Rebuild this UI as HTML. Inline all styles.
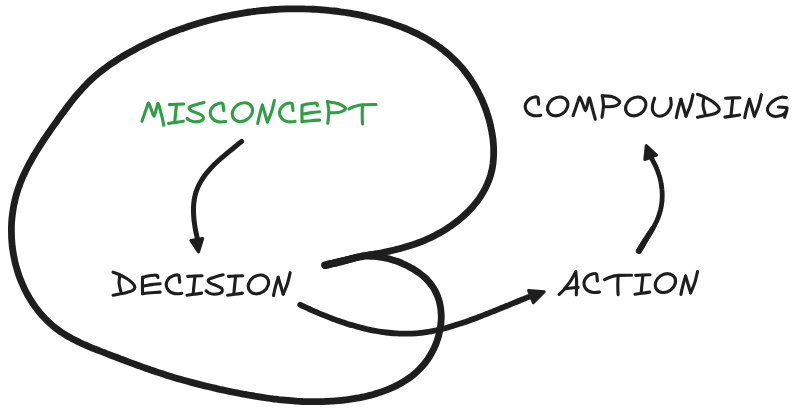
<!DOCTYPE html>
<html><head><meta charset="utf-8"><title>Misconcept loop</title>
<style>
html,body{margin:0;padding:0;background:#ffffff;}
body{width:800px;height:411px;overflow:hidden;font-family:"Liberation Sans",sans-serif;}
svg{display:block;}
</style></head>
<body>
<svg width="800" height="411" viewBox="0 0 800 411">
<path d="M325.1 265.4 C326.0 265.1 328.9 264.2 330.8 263.7 C332.8 263.1 334.7 262.6 336.6 262.1 C338.6 261.6 340.5 261.2 342.5 260.7 C344.4 260.2 346.4 259.8 348.3 259.4 C350.3 259.0 352.2 258.6 354.2 258.2 C356.2 257.8 358.1 257.4 360.1 257.0 C362.1 256.6 364.0 256.2 366.0 255.9 C368.0 255.5 369.9 255.1 371.9 254.7 C373.9 254.3 375.8 254.0 377.8 253.6 C379.8 253.2 381.7 252.8 383.7 252.4 C385.6 252.0 387.6 251.5 389.6 251.1 C391.5 250.7 393.5 250.2 395.4 249.7 C397.3 249.3 399.3 248.8 401.2 248.2 C403.2 247.7 405.1 247.2 407.0 246.6 C408.9 246.0 410.8 245.4 412.7 244.8 C414.6 244.2 416.5 243.5 418.4 242.8 C420.3 242.1 422.1 241.4 424.0 240.6 C425.8 239.8 427.7 239.0 429.5 238.2 C431.3 237.3 433.1 236.4 434.9 235.5 C436.6 234.6 438.4 233.6 440.1 232.7 C441.9 231.7 443.6 230.7 445.3 229.6 C447.0 228.5 448.7 227.4 450.3 226.3 C452.0 225.2 453.6 224.0 455.2 222.8 C456.8 221.6 458.4 220.4 459.9 219.1 C461.5 217.8 463.0 216.5 464.5 215.1 C465.9 213.8 467.4 212.4 468.8 211.0 C470.2 209.5 471.5 208.1 472.9 206.5 C474.2 205.0 475.4 203.5 476.7 201.9 C477.9 200.3 479.1 198.7 480.2 197.0 C481.3 195.4 482.3 193.7 483.3 191.9 C484.3 190.2 485.3 188.4 486.1 186.6 C487.0 184.8 487.8 183.0 488.5 181.1 C489.3 179.2 489.9 177.3 490.5 175.4 C491.0 173.5 491.5 171.6 492.0 169.6 C492.4 167.6 492.7 165.7 493.0 163.7 C493.2 161.7 493.4 159.7 493.5 157.7 C493.7 155.7 493.7 153.7 493.7 151.7 C493.7 149.7 493.6 147.7 493.5 145.7 C493.4 143.7 493.2 141.7 493.0 139.7 C492.8 137.7 492.5 135.7 492.1 133.8 C491.8 131.8 491.4 129.8 491.0 127.9 C490.6 125.9 490.2 124.0 489.7 122.0 C489.2 120.1 488.6 118.2 488.0 116.2 C487.4 114.3 486.8 112.4 486.2 110.5 C485.5 108.6 484.8 106.8 484.0 104.9 C483.3 103.1 482.5 101.2 481.7 99.4 C480.9 97.6 480.0 95.7 479.1 94.0 C478.2 92.2 477.3 90.4 476.3 88.7 C475.3 86.9 474.3 85.2 473.3 83.5 C472.2 81.8 471.1 80.1 470.0 78.4 C468.9 76.8 467.7 75.2 466.5 73.6 C465.3 72.0 464.0 70.4 462.8 68.8 C461.5 67.3 460.2 65.8 458.8 64.3 C457.4 62.8 456.1 61.4 454.6 60.0 C453.2 58.6 451.7 57.2 450.3 55.9 C448.8 54.6 447.2 53.2 445.7 52.0 C444.1 50.7 442.6 49.5 441.0 48.3 C439.4 47.1 437.7 45.9 436.1 44.8 C434.4 43.7 432.7 42.6 431.0 41.5 C429.3 40.5 427.6 39.4 425.9 38.4 C424.1 37.5 422.4 36.5 420.6 35.6 C418.8 34.6 417.0 33.7 415.2 32.9 C413.4 32.0 411.6 31.2 409.8 30.4 C407.9 29.6 406.1 28.8 404.2 28.0 C402.4 27.3 400.5 26.6 398.6 25.9 C396.8 25.2 394.9 24.5 393.0 23.9 C391.1 23.2 389.2 22.6 387.3 22.0 C385.4 21.4 383.4 20.8 381.5 20.3 C379.6 19.7 377.7 19.2 375.7 18.7 C373.8 18.2 371.8 17.7 369.9 17.3 C367.9 16.8 366.0 16.4 364.0 15.9 C362.1 15.5 360.1 15.1 358.1 14.7 C356.2 14.3 354.2 14.0 352.2 13.6 C350.3 13.3 348.3 12.9 346.3 12.6 C344.3 12.3 342.4 12.0 340.4 11.8 C338.4 11.5 336.4 11.2 334.4 11.0 C332.4 10.8 330.4 10.5 328.4 10.4 C326.4 10.2 324.5 10.0 322.5 9.8 C320.5 9.7 318.5 9.5 316.5 9.4 C314.5 9.3 312.5 9.2 310.5 9.1 C308.5 9.0 306.5 8.9 304.5 8.9 C302.5 8.8 300.5 8.8 298.5 8.8 C296.5 8.8 294.5 8.8 292.5 8.8 C290.4 8.8 288.4 8.9 286.4 8.9 C284.4 9.0 282.4 9.1 280.4 9.2 C278.4 9.3 276.4 9.4 274.4 9.5 C272.4 9.7 270.5 9.8 268.5 10.0 C266.5 10.1 264.5 10.3 262.5 10.5 C260.5 10.7 258.5 10.9 256.5 11.2 C254.5 11.4 252.5 11.7 250.5 12.0 C248.6 12.2 246.6 12.5 244.6 12.8 C242.6 13.1 240.7 13.5 238.7 13.8 C236.7 14.1 234.7 14.5 232.8 14.9 C230.8 15.3 228.8 15.6 226.9 16.1 C224.9 16.5 223.0 16.9 221.0 17.3 C219.1 17.8 217.1 18.2 215.2 18.7 C213.2 19.2 211.3 19.7 209.3 20.2 C207.4 20.7 205.5 21.3 203.6 21.8 C201.6 22.3 199.7 22.9 197.8 23.5 C195.9 24.1 194.0 24.7 192.1 25.3 C190.1 25.9 188.2 26.5 186.3 27.2 C184.5 27.8 182.6 28.5 180.7 29.1 C178.8 29.8 176.9 30.5 175.0 31.2 C173.2 31.9 171.3 32.7 169.4 33.4 C167.6 34.1 165.7 34.9 163.9 35.7 C162.0 36.4 160.2 37.2 158.4 38.0 C156.5 38.9 154.7 39.7 152.9 40.5 C151.1 41.4 149.3 42.2 147.5 43.1 C145.7 44.0 143.9 44.8 142.1 45.7 C140.3 46.6 138.5 47.6 136.7 48.5 C135.0 49.4 133.2 50.4 131.5 51.4 C129.7 52.3 128.0 53.3 126.2 54.3 C124.5 55.3 122.8 56.3 121.1 57.4 C119.4 58.4 117.7 59.5 116.0 60.6 C114.3 61.7 112.6 62.8 111.0 63.9 C109.3 65.0 107.7 66.2 106.1 67.4 C104.5 68.6 102.9 69.8 101.3 71.0 C99.7 72.3 98.2 73.5 96.6 74.8 C95.1 76.1 93.6 77.4 92.1 78.8 C90.7 80.1 89.2 81.5 87.8 82.9 C86.4 84.3 85.0 85.8 83.6 87.2 C82.2 88.7 80.9 90.2 79.6 91.7 C78.2 93.2 76.9 94.7 75.7 96.2 C74.4 97.8 73.1 99.3 71.9 100.9 C70.6 102.5 69.4 104.1 68.2 105.6 C67.0 107.2 65.8 108.8 64.6 110.5 C63.4 112.1 62.2 113.7 61.0 115.3 C59.9 116.9 58.7 118.5 57.5 120.2 C56.4 121.8 55.2 123.4 54.0 125.1 C52.9 126.7 51.7 128.3 50.6 130.0 C49.4 131.6 48.3 133.3 47.2 134.9 C46.0 136.6 44.9 138.2 43.8 139.9 C42.7 141.6 41.6 143.2 40.5 144.9 C39.4 146.6 38.3 148.3 37.3 150.0 C36.2 151.7 35.2 153.4 34.2 155.1 C33.1 156.8 32.1 158.6 31.2 160.3 C30.2 162.1 29.2 163.8 28.3 165.6 C27.4 167.4 26.5 169.2 25.6 171.0 C24.7 172.8 23.9 174.6 23.0 176.4 C22.2 178.2 21.5 180.1 20.7 181.9 C20.0 183.8 19.3 185.7 18.6 187.6 C18.0 189.5 17.3 191.4 16.8 193.3 C16.2 195.2 15.7 197.1 15.2 199.1 C14.7 201.0 14.3 203.0 13.9 204.9 C13.5 206.9 13.2 208.9 12.9 210.9 C12.6 212.8 12.3 214.8 12.1 216.8 C11.9 218.8 11.7 220.8 11.6 222.8 C11.5 224.8 11.4 226.8 11.4 228.8 C11.4 230.8 11.4 232.8 11.5 234.8 C11.5 236.8 11.6 238.8 11.8 240.8 C11.9 242.8 12.1 244.8 12.3 246.8 C12.6 248.8 12.9 250.8 13.2 252.7 C13.5 254.7 13.9 256.7 14.3 258.6 C14.7 260.6 15.1 262.6 15.6 264.5 C16.1 266.4 16.7 268.4 17.3 270.3 C17.8 272.2 18.5 274.1 19.1 276.0 C19.8 277.9 20.5 279.7 21.3 281.6 C22.0 283.4 22.8 285.3 23.7 287.1 C24.5 288.9 25.4 290.7 26.3 292.5 C27.3 294.3 28.3 296.0 29.3 297.7 C30.3 299.4 31.4 301.1 32.5 302.8 C33.6 304.5 34.7 306.1 35.9 307.7 C37.1 309.3 38.3 310.9 39.6 312.5 C40.9 314.0 42.2 315.5 43.6 317.0 C44.9 318.4 46.4 319.9 47.8 321.3 C49.2 322.6 50.7 324.0 52.2 325.3 C53.8 326.6 55.3 327.8 56.9 329.0 C58.5 330.3 60.2 331.4 61.8 332.5 C63.5 333.6 65.2 334.7 66.9 335.7 C68.6 336.8 70.4 337.7 72.1 338.7 C73.9 339.6 75.7 340.5 77.5 341.4 C79.3 342.3 81.1 343.1 82.9 344.0 C84.7 344.8 86.6 345.6 88.4 346.4 C90.3 347.2 92.1 347.9 94.0 348.7 C95.8 349.4 97.7 350.2 99.6 350.9 C101.4 351.6 103.3 352.3 105.2 353.0 C107.0 353.8 108.9 354.5 110.8 355.2 C112.6 355.9 114.5 356.6 116.4 357.3 C118.3 358.0 120.1 358.8 122.0 359.5 C123.9 360.2 125.7 360.9 127.6 361.6 C129.5 362.3 131.4 363.0 133.2 363.7 C135.1 364.4 137.0 365.1 138.9 365.8 C140.8 366.4 142.6 367.1 144.5 367.8 C146.4 368.5 148.3 369.1 150.2 369.8 C152.1 370.4 154.0 371.1 155.9 371.7 C157.8 372.3 159.7 373.0 161.6 373.6 C163.5 374.2 165.4 374.8 167.3 375.4 C169.2 376.0 171.2 376.6 173.1 377.2 C175.0 377.7 176.9 378.3 178.8 378.9 C180.8 379.4 182.7 380.0 184.6 380.5 C186.5 381.0 188.5 381.6 190.4 382.1 C192.3 382.6 194.3 383.1 196.2 383.6 C198.1 384.1 200.1 384.6 202.0 385.1 C204.0 385.6 205.9 386.1 207.9 386.5 C209.8 387.0 211.8 387.5 213.7 387.9 C215.7 388.4 217.6 388.8 219.6 389.3 C221.5 389.7 223.5 390.1 225.4 390.5 C227.4 391.0 229.4 391.4 231.3 391.8 C233.3 392.2 235.2 392.6 237.2 392.9 C239.2 393.3 241.1 393.7 243.1 394.1 C245.1 394.4 247.0 394.8 249.0 395.2 C251.0 395.5 253.0 395.8 254.9 396.2 C256.9 396.5 258.9 396.8 260.9 397.1 C262.8 397.4 264.8 397.7 266.8 398.0 C268.8 398.3 270.8 398.6 272.8 398.8 C274.7 399.1 276.7 399.3 278.7 399.6 C280.7 399.8 282.7 400.0 284.7 400.2 C286.7 400.4 288.7 400.6 290.7 400.7 C292.7 400.9 294.7 401.0 296.7 401.2 C298.7 401.3 300.7 401.4 302.7 401.5 C304.7 401.5 306.7 401.6 308.7 401.7 C310.7 401.7 312.7 401.7 314.7 401.7 C316.7 401.7 318.7 401.7 320.7 401.6 C322.7 401.6 324.7 401.5 326.7 401.4 C328.7 401.4 330.7 401.2 332.7 401.1 C334.7 401.0 336.7 400.8 338.7 400.6 C340.7 400.4 342.6 400.2 344.6 400.0 C346.6 399.7 348.6 399.5 350.6 399.2 C352.6 398.9 354.5 398.6 356.5 398.2 C358.5 397.9 360.5 397.5 362.4 397.1 C364.4 396.7 366.3 396.2 368.3 395.7 C370.2 395.3 372.2 394.7 374.1 394.2 C376.0 393.6 377.9 393.1 379.8 392.4 C381.7 391.8 383.6 391.1 385.5 390.4 C387.3 389.7 389.2 388.9 391.0 388.1 C392.9 387.3 394.7 386.5 396.5 385.6 C398.3 384.7 400.0 383.7 401.8 382.7 C403.5 381.7 405.2 380.7 406.9 379.6 C408.5 378.4 410.2 377.3 411.7 376.1 C413.3 374.8 414.9 373.5 416.3 372.2 C417.8 370.9 419.3 369.5 420.6 368.0 C422.0 366.6 423.3 365.1 424.6 363.5 C425.9 361.9 427.0 360.3 428.2 358.7 C429.3 357.0 430.3 355.3 431.3 353.5 C432.3 351.8 433.2 350.0 434.1 348.2 C434.9 346.4 435.7 344.5 436.4 342.7 C437.1 340.8 437.7 338.9 438.3 337.0 C438.8 335.0 439.3 333.1 439.7 331.1 C440.1 329.2 440.5 327.2 440.7 325.2 C441.0 323.2 441.1 321.2 441.2 319.2 C441.3 317.2 441.3 315.2 441.1 313.2 C441.0 311.2 440.8 309.2 440.5 307.3 C440.2 305.3 439.8 303.3 439.3 301.4 C438.8 299.5 438.1 297.5 437.4 295.7 C436.7 293.8 435.8 292.0 434.8 290.3 C433.9 288.5 432.8 286.8 431.6 285.2 C430.4 283.6 429.1 282.0 427.8 280.6 C426.4 279.1 425.0 277.7 423.5 276.4 C422.0 275.1 420.4 273.8 418.8 272.6 C417.2 271.5 415.5 270.4 413.8 269.3 C412.1 268.3 410.3 267.3 408.6 266.4 C406.8 265.4 405.0 264.6 403.1 263.8 C401.3 263.0 399.4 262.2 397.6 261.5 C395.7 260.9 393.8 260.2 391.9 259.7 C389.9 259.1 388.0 258.6 386.0 258.2 C384.1 257.7 382.1 257.4 380.1 257.1 C378.2 256.8 376.2 256.5 374.2 256.4 C372.2 256.3 369.2 256.3 368.2 256.2" fill="none" stroke="#1e1e1e" stroke-width="6.8" stroke-linecap="round" stroke-linejoin="round"/>
<path d="M325.00 265.20 L329.66 264.18" stroke="#1e1e1e" stroke-width="7.60" stroke-linecap="round"/>
<path d="M328.69 264.39 L335.74 262.83" stroke="#1e1e1e" stroke-width="7.49" stroke-linecap="round"/>
<path d="M334.58 263.09 L341.86 261.39" stroke="#1e1e1e" stroke-width="7.38" stroke-linecap="round"/>
<path d="M340.86 261.63 L347.13 259.97" stroke="#1e1e1e" stroke-width="7.27" stroke-linecap="round"/>
<path d="M346.15 260.24 L352.60 258.44" stroke="#1e1e1e" stroke-width="7.16" stroke-linecap="round"/>
<path d="M351.60 258.72 L357.57 257.15" stroke="#1e1e1e" stroke-width="7.04" stroke-linecap="round"/>
<path d="M356.58 257.39 L363.24 255.98" stroke="#1e1e1e" stroke-width="6.93" stroke-linecap="round"/>
<path d="M362.13 256.18 L369.60 254.97" stroke="#1e1e1e" stroke-width="6.82" stroke-linecap="round"/>
<path d="M368.45 255.14 L375.22 254.19" stroke="#1e1e1e" stroke-width="6.71" stroke-linecap="round"/>
<path d="M374.32 254.32 L378.00 253.80" stroke="#1e1e1e" stroke-width="6.60" stroke-linecap="round"/>
<path d="M241.6 141.5 C240.9 142.0 238.9 143.6 237.6 144.7 C236.3 145.8 234.9 146.8 233.6 147.9 C232.3 148.9 230.9 150.0 229.6 151.1 C228.3 152.2 227.0 153.2 225.7 154.3 C224.4 155.4 223.1 156.5 221.8 157.7 C220.5 158.8 219.2 159.9 218.0 161.1 C216.7 162.2 215.5 163.4 214.3 164.6 C213.1 165.8 211.9 167.1 210.7 168.3 C209.6 169.6 208.5 170.9 207.4 172.2 C206.3 173.5 205.2 174.8 204.2 176.2 C203.2 177.6 202.3 179.0 201.4 180.5 C200.5 181.9 199.7 183.4 198.9 185.0 C198.2 186.5 197.5 188.1 196.9 189.6 C196.3 191.2 195.8 192.9 195.3 194.5 C194.9 196.2 194.5 197.8 194.3 199.5 C194.0 201.2 193.8 202.9 193.7 204.6 C193.5 206.3 193.5 208.0 193.5 209.7 C193.5 211.4 193.5 213.1 193.6 214.8 C193.7 216.5 193.8 218.2 194.0 219.9 C194.2 221.6 194.4 223.3 194.7 225.0 C194.9 226.7 195.2 228.4 195.5 230.1 C195.8 231.7 196.2 233.4 196.6 235.1 C196.9 236.7 197.6 239.2 197.8 240.0" fill="none" stroke="#1e1e1e" stroke-width="5.0" stroke-linecap="round" stroke-linejoin="round"/>
<path d="M190.8 240.5 L202.7 238.6 L198.5 252.0 Z" fill="#1e1e1e" stroke="#1e1e1e" stroke-width="3" stroke-linejoin="round"/>
<path d="M300.2 304.7 C300.9 305.1 303.2 306.2 304.7 306.9 C306.3 307.6 307.8 308.3 309.3 309.0 C310.8 309.7 312.4 310.4 313.9 311.1 C315.5 311.7 317.0 312.4 318.5 313.1 C320.1 313.7 321.6 314.4 323.2 315.0 C324.8 315.6 326.3 316.3 327.9 316.9 C329.4 317.5 331.0 318.1 332.6 318.7 C334.2 319.3 335.7 319.9 337.3 320.4 C338.9 321.0 340.5 321.5 342.1 322.1 C343.7 322.6 345.3 323.1 346.9 323.7 C348.5 324.2 350.1 324.7 351.7 325.1 C353.3 325.6 354.9 326.1 356.5 326.5 C358.2 327.0 359.8 327.4 361.4 327.8 C363.0 328.2 364.7 328.6 366.3 329.0 C367.9 329.4 369.6 329.7 371.2 330.1 C372.9 330.4 374.5 330.7 376.2 331.0 C377.8 331.3 379.5 331.6 381.2 331.8 C382.8 332.1 384.5 332.3 386.2 332.5 C387.8 332.7 389.5 332.9 391.2 333.0 C392.8 333.2 394.5 333.3 396.2 333.4 C397.9 333.5 399.5 333.6 401.2 333.6 C402.9 333.7 404.6 333.7 406.3 333.7 C407.9 333.7 409.6 333.7 411.3 333.6 C413.0 333.5 414.7 333.4 416.3 333.3 C418.0 333.2 419.7 333.0 421.4 332.8 C423.0 332.6 424.7 332.4 426.4 332.2 C428.0 331.9 429.7 331.6 431.3 331.3 C433.0 331.0 434.6 330.7 436.3 330.3 C437.9 330.0 439.6 329.6 441.2 329.2 C442.8 328.8 444.4 328.4 446.1 328.0 C447.7 327.5 449.3 327.1 450.9 326.6 C452.5 326.1 454.1 325.6 455.7 325.1 C457.3 324.6 458.9 324.1 460.5 323.6 C462.1 323.1 463.7 322.5 465.3 322.0 C466.9 321.4 468.5 320.8 470.1 320.3 C471.6 319.7 473.2 319.1 474.8 318.5 C476.4 317.9 477.9 317.4 479.5 316.8 C481.1 316.2 482.6 315.5 484.2 314.9 C485.8 314.3 487.3 313.7 488.9 313.1 C490.5 312.5 492.0 311.8 493.6 311.2 C495.1 310.6 496.7 310.0 498.3 309.3 C499.8 308.7 501.4 308.1 502.9 307.4 C504.5 306.8 506.0 306.2 507.6 305.5 C509.1 304.9 510.7 304.2 512.3 303.6 C513.8 303.0 515.4 302.3 516.9 301.7 C518.5 301.1 520.0 300.4 521.6 299.8 C523.2 299.2 524.7 298.6 526.3 297.9 C527.8 297.3 530.2 296.4 531.0 296.1" fill="none" stroke="#1e1e1e" stroke-width="5.8" stroke-linecap="round" stroke-linejoin="round"/>
<path d="M528.6 290.4 L544.2 291.8 L533.3 302.6 Z" fill="#1e1e1e" stroke="#1e1e1e" stroke-width="3" stroke-linejoin="round"/>
<path d="M638.6 250.6 C639.1 249.9 640.6 247.7 641.6 246.3 C642.5 244.9 643.5 243.5 644.5 242.1 C645.5 240.6 646.4 239.2 647.4 237.7 C648.3 236.3 649.2 234.8 650.1 233.4 C651.0 231.9 651.9 230.4 652.7 228.9 C653.6 227.4 654.4 225.8 655.1 224.3 C655.9 222.7 656.6 221.2 657.3 219.6 C658.0 218.0 658.6 216.4 659.1 214.7 C659.7 213.1 660.1 211.4 660.6 209.7 C661.0 208.1 661.3 206.4 661.6 204.7 C661.8 203.0 662.0 201.2 662.1 199.5 C662.2 197.8 662.3 196.1 662.2 194.3 C662.2 192.6 662.1 190.9 661.9 189.2 C661.8 187.4 661.5 185.7 661.2 184.0 C661.0 182.3 660.6 180.6 660.2 179.0 C659.7 177.3 659.3 175.6 658.7 174.0 C658.2 172.3 657.6 170.7 656.9 169.1 C656.3 167.5 655.6 165.9 654.8 164.4 C654.0 162.8 653.2 161.3 652.4 159.8 C651.5 158.3 650.1 156.1 649.6 155.4" fill="none" stroke="#1e1e1e" stroke-width="4.8" stroke-linecap="round" stroke-linejoin="round"/>
<path d="M646.3 145.5 L644.8 159.5 L656.5 155.0 Z" fill="#1e1e1e" stroke="#1e1e1e" stroke-width="3" stroke-linejoin="round"/>
<path d="M639.0 250.8 L642.2 245.5" stroke="#1e1e1e" stroke-width="6.2" stroke-linecap="round"/>
<path d="M642.2 245.5 L645.4 240.0" stroke="#1e1e1e" stroke-width="5.8" stroke-linecap="round"/>
<path d="M645.4 240.0 L649.0 234.2" stroke="#1e1e1e" stroke-width="5.4" stroke-linecap="round"/>
<path d="M649.0 234.2 L652.3 228.7" stroke="#1e1e1e" stroke-width="5.0" stroke-linecap="round"/>
<g fill="none" stroke="#2f9e44" stroke-width="3.1" stroke-linecap="round" stroke-linejoin="round"><path d="M141.9 121.3 C142.3 120.1 143.6 116.4 144.4 114.2 C145.2 112.0 145.9 109.9 146.6 108.0 C147.3 106.1 147.7 102.8 148.5 103.0 C149.3 103.2 150.4 107.3 151.3 109.5 C152.2 111.7 153.2 116.2 154.0 116.2 C154.8 116.2 155.5 111.6 156.2 109.5 C156.9 107.4 157.5 103.1 158.2 103.4 C158.9 103.7 159.9 109.0 160.6 111.5 C161.3 114.0 161.9 116.2 162.4 118.5 C162.9 120.8 163.5 124.1 163.7 125.2"/><path d="M169.3 104.6 C170.5 104.5 174.0 104.3 176.4 104.2 C178.8 104.1 182.4 104.0 183.6 104.0"/><path d="M176.5 104.6 C176.3 106.0 175.9 110.3 175.6 113.2 C175.3 116.1 174.9 120.3 174.8 121.7"/><path d="M168.6 123.4 C169.8 123.2 173.1 122.8 175.6 122.4 C178.1 122.1 182.0 121.5 183.3 121.3"/><path d="M204.1 102.4 C202.9 102.7 199.0 103.7 196.8 104.4 C194.6 105.1 192.1 105.7 190.8 106.4 C189.5 107.1 189.0 107.7 189.2 108.5 C189.4 109.3 190.4 110.3 191.9 111.1 C193.4 111.9 196.2 112.6 198.0 113.4 C199.8 114.2 201.7 115.1 202.6 116.0 C203.5 116.9 203.6 117.9 203.3 118.7 C203.0 119.5 202.1 120.5 200.7 121.0 C199.2 121.5 196.4 121.9 194.6 121.8 C192.8 121.7 191.1 121.0 189.8 120.4 C188.6 119.8 187.6 118.7 187.1 118.4"/><path d="M223.7 110.5 C223.6 109.9 223.5 107.9 223.3 106.7 C223.1 105.5 223.4 104.0 222.6 103.5 C221.8 103.0 220.0 103.0 218.6 103.4 C217.2 103.8 215.2 104.6 213.9 105.7 C212.6 106.8 211.4 108.3 210.8 109.8 C210.2 111.3 210.1 113.0 210.4 114.5 C210.7 116.0 211.5 117.5 212.5 118.6 C213.5 119.7 215.1 120.6 216.6 121.2 C218.1 121.8 219.8 122.0 221.3 122.0 C222.8 122.0 225.1 121.6 225.8 121.5"/><ellipse cx="242.40" cy="112.20" rx="10.8" ry="8.7" transform="rotate(-35 242.40 112.20)"/><path d="M257.7 123.5 C258.0 122.0 258.9 117.6 259.7 114.6 C260.5 111.5 261.9 106.8 262.4 105.2"/><path d="M262.4 105.2 C262.8 106.7 264.2 111.1 265.0 113.9 C265.8 116.7 267.0 120.7 267.4 122.0"/><path d="M267.4 122.0 C267.8 121.0 269.2 117.9 270.0 115.9 C270.8 113.9 271.4 112.5 272.1 109.9 C272.8 107.4 274.0 102.1 274.4 100.6"/><path d="M293.0 110.4 C292.9 109.8 292.8 107.8 292.6 106.6 C292.4 105.4 292.7 104.0 291.9 103.4 C291.1 102.9 289.3 102.9 287.9 103.3 C286.4 103.7 284.5 104.5 283.2 105.6 C281.9 106.7 280.7 108.2 280.1 109.7 C279.5 111.2 279.4 112.9 279.7 114.4 C280.0 115.9 280.8 117.4 281.8 118.5 C282.8 119.6 284.4 120.5 285.9 121.1 C287.4 121.7 289.1 121.9 290.6 121.9 C292.1 122.0 294.4 121.5 295.1 121.4"/><path d="M302.2 105.3 C302.1 106.6 301.9 110.2 301.9 113.0 C301.9 115.8 302.1 120.3 302.1 121.8"/><path d="M302.2 105.3 C303.1 105.1 305.6 104.3 307.5 104.0 C309.4 103.7 312.1 103.3 313.7 103.2 C315.3 103.1 316.3 103.2 316.9 103.6 C317.5 104.0 317.3 105.3 317.4 105.6"/><path d="M303.7 113.9 C305.0 113.7 308.9 113.0 311.5 112.6 C314.1 112.2 318.2 111.8 319.6 111.7"/><path d="M302.1 121.6 C303.5 121.5 307.6 121.0 310.5 120.8 C313.4 120.5 318.1 120.2 319.6 120.1"/><path d="M327.5 101.6 C327.7 103.3 328.8 108.0 328.8 111.6 C328.9 115.2 328.0 121.3 327.8 123.3"/><path d="M327.5 101.6 C329.2 101.9 334.8 102.6 337.6 103.4 C340.4 104.2 342.9 105.7 344.2 106.7 C345.5 107.7 345.6 108.5 345.2 109.3 C344.8 110.1 343.2 111.0 341.5 111.6 C339.8 112.2 337.2 112.5 335.2 112.7 C333.2 112.9 330.4 112.7 329.4 112.7"/><path d="M349.0 109.0 C349.9 108.6 352.1 107.2 354.4 106.5 C356.6 105.8 358.9 105.0 362.5 104.7 C366.1 104.4 373.8 104.5 376.0 104.5"/><path d="M362.5 105.3 C362.4 106.8 362.2 111.2 362.2 114.3 C362.2 117.4 362.4 122.4 362.5 124.0"/></g>
<g fill="none" stroke="#1e1e1e" stroke-width="3.1" stroke-linecap="round" stroke-linejoin="round"><path d="M538.7 104.3 C538.6 103.7 538.5 101.7 538.3 100.5 C538.1 99.3 538.4 97.8 537.6 97.3 C536.8 96.8 535.1 96.8 533.6 97.2 C532.1 97.6 530.2 98.4 528.9 99.5 C527.6 100.6 526.4 102.1 525.8 103.6 C525.2 105.1 525.1 106.8 525.4 108.3 C525.7 109.8 526.5 111.3 527.5 112.4 C528.5 113.5 530.1 114.4 531.6 115.0 C533.1 115.6 534.8 115.8 536.3 115.8 C537.8 115.8 540.0 115.4 540.8 115.3"/><ellipse cx="557.70" cy="106.40" rx="10.8" ry="8.7" transform="rotate(-35 557.70 106.40)"/><path d="M573.1 115.7 C573.5 114.4 575.0 110.2 575.8 107.9 C576.6 105.6 577.1 103.8 577.8 102.0 C578.4 100.2 578.9 96.8 579.7 97.0 C580.5 97.2 581.6 101.2 582.6 103.5 C583.6 105.8 584.7 110.5 585.5 110.6 C586.3 110.7 586.9 106.1 587.5 104.0 C588.1 101.9 588.7 97.5 589.4 97.8 C590.1 98.1 590.9 103.0 591.6 105.6 C592.3 108.2 593.1 111.1 593.7 113.4 C594.3 115.7 595.0 118.2 595.3 119.2"/><path d="M602.3 95.8 C602.5 97.4 603.5 102.0 603.5 105.6 C603.5 109.2 602.2 115.3 602.0 117.3"/><path d="M602.3 95.8 C603.8 95.9 608.9 95.9 611.6 96.6 C614.3 97.3 617.0 98.9 618.3 100.0 C619.6 101.1 619.8 102.3 619.4 103.2 C619.0 104.1 617.8 105.0 616.2 105.6 C614.6 106.2 612.1 106.5 610.0 106.7 C607.9 106.9 604.8 106.7 603.8 106.7"/><ellipse cx="635.70" cy="106.40" rx="10.8" ry="8.7" transform="rotate(-35 635.70 106.40)"/><path d="M654.6 98.2 C654.3 99.2 653.1 102.4 652.7 104.4 C652.4 106.4 652.1 108.5 652.5 110.2 C652.9 111.9 654.1 113.6 655.3 114.6 C656.5 115.6 658.1 116.2 659.7 116.2 C661.3 116.2 663.2 115.8 664.8 114.8 C666.4 113.8 668.1 111.9 669.2 110.2 C670.3 108.5 671.0 106.4 671.2 104.4 C671.4 102.4 670.7 99.2 670.6 98.2"/><path d="M676.3 117.6 C676.6 116.1 677.5 111.8 678.3 108.7 C679.1 105.7 680.5 100.9 681.0 99.3"/><path d="M681.0 99.3 C681.4 100.8 682.8 105.2 683.6 108.0 C684.4 110.8 685.6 114.8 686.0 116.1"/><path d="M686.0 116.1 C686.4 115.1 687.8 112.0 688.6 110.0 C689.4 108.0 690.0 106.5 690.7 104.0 C691.4 101.5 692.6 96.2 693.0 94.7"/><path d="M703.7 98.6 C703.6 99.8 702.9 103.5 703.1 106.0 C703.3 108.5 704.7 112.2 705.0 113.4"/><path d="M697.5 94.3 C698.5 94.7 701.4 95.5 703.7 96.6 C706.0 97.7 709.2 99.4 711.5 100.9 C713.8 102.4 716.0 104.2 717.3 105.6 C718.6 107.0 719.4 108.3 719.3 109.5 C719.2 110.7 718.2 111.8 716.9 112.6 C715.6 113.4 713.7 113.9 711.5 114.5 C709.3 115.1 706.0 115.6 703.7 116.1 C701.4 116.6 698.5 117.1 697.5 117.3"/><path d="M725.6 98.3 C726.8 98.2 730.3 98.0 732.7 97.9 C735.1 97.8 738.7 97.7 739.9 97.7"/><path d="M732.8 98.3 C732.6 99.7 732.2 104.1 731.9 106.9 C731.6 109.8 731.2 114.0 731.1 115.4"/><path d="M724.9 117.1 C726.1 116.9 729.4 116.4 731.9 116.1 C734.4 115.8 738.3 115.2 739.6 115.0"/><path d="M744.7 117.6 C745.0 116.1 745.9 111.8 746.7 108.7 C747.5 105.7 749.0 100.9 749.4 99.3"/><path d="M749.4 99.3 C749.8 100.8 751.2 105.2 752.0 108.0 C752.8 110.8 754.0 114.8 754.4 116.1"/><path d="M754.4 116.1 C754.8 115.1 756.2 112.0 757.0 110.0 C757.8 108.0 758.4 106.5 759.1 104.0 C759.8 101.5 761.0 96.2 761.4 94.7"/><path d="M786.3 97.6 C785.5 97.5 783.3 97.0 781.7 97.2 C780.1 97.4 778.4 97.9 776.6 98.9 C774.8 99.9 772.3 101.5 770.8 103.0 C769.3 104.5 768.0 106.4 767.6 108.1 C767.2 109.8 767.7 111.9 768.6 113.2 C769.5 114.5 771.3 115.6 773.0 116.1 C774.7 116.6 777.0 116.5 778.8 116.1 C780.6 115.7 782.6 114.8 783.9 113.9 C785.2 113.0 786.1 111.3 786.6 110.8"/><path d="M778.4 107.0 C779.1 107.0 781.1 107.1 782.5 107.2 C783.9 107.3 786.1 107.6 786.8 107.7"/><path d="M787.0 108.2 C786.8 108.9 786.4 111.0 786.0 112.5 C785.6 114.0 784.8 116.4 784.6 117.2"/><path d="M119.7 276.1 C119.6 277.3 118.9 280.9 119.1 283.5 C119.3 286.1 120.6 290.2 120.9 291.5"/><path d="M113.1 272.2 C114.1 272.6 117.0 273.4 119.3 274.5 C121.6 275.6 124.8 277.3 127.1 278.8 C129.4 280.3 131.6 282.1 132.9 283.5 C134.2 284.9 135.0 286.2 134.9 287.4 C134.8 288.6 133.8 289.7 132.5 290.5 C131.2 291.3 129.3 291.8 127.1 292.4 C124.9 293.0 121.6 293.5 119.3 294.0 C117.0 294.5 114.1 295.0 113.1 295.2"/><path d="M142.7 277.3 C142.6 278.6 142.4 282.2 142.4 285.0 C142.4 287.8 142.6 292.3 142.6 293.8"/><path d="M142.7 277.3 C143.6 277.1 146.1 276.4 148.0 276.0 C149.9 275.6 152.6 275.3 154.2 275.2 C155.8 275.1 156.8 275.2 157.4 275.6 C158.0 276.0 157.8 277.3 157.9 277.6"/><path d="M144.2 285.9 C145.5 285.7 149.3 285.0 152.0 284.6 C154.7 284.2 158.8 283.9 160.1 283.7"/><path d="M142.6 293.6 C144.0 293.5 148.1 293.1 151.0 292.8 C153.9 292.6 158.6 292.2 160.1 292.1"/><path d="M179.7 282.3 C179.6 281.7 179.5 279.7 179.3 278.5 C179.1 277.3 179.4 275.9 178.6 275.3 C177.8 274.8 176.0 274.8 174.6 275.2 C173.2 275.6 171.2 276.4 169.9 277.5 C168.6 278.6 167.4 280.1 166.8 281.6 C166.2 283.1 166.1 284.8 166.4 286.3 C166.7 287.8 167.5 289.3 168.5 290.4 C169.5 291.5 171.1 292.4 172.6 293.0 C174.1 293.6 175.8 293.8 177.3 293.8 C178.8 293.9 181.1 293.4 181.8 293.3"/><path d="M187.7 276.4 C188.9 276.3 192.4 276.1 194.8 276.0 C197.2 275.9 200.8 275.8 202.0 275.8"/><path d="M194.9 276.4 C194.8 277.8 194.3 282.1 194.0 285.0 C193.7 287.9 193.3 292.1 193.2 293.5"/><path d="M187.0 295.2 C188.2 295.0 191.6 294.5 194.0 294.2 C196.4 293.9 200.4 293.3 201.7 293.1"/><path d="M223.1 274.8 C221.9 275.1 218.0 276.1 215.8 276.8 C213.6 277.5 211.1 278.1 209.8 278.8 C208.5 279.5 208.0 280.1 208.2 280.9 C208.4 281.7 209.4 282.7 210.9 283.5 C212.4 284.3 215.2 285.0 217.0 285.8 C218.8 286.6 220.7 287.5 221.6 288.4 C222.5 289.3 222.6 290.3 222.3 291.1 C222.0 291.9 221.1 292.9 219.7 293.4 C218.2 293.9 215.4 294.3 213.6 294.2 C211.8 294.1 210.1 293.4 208.8 292.8 C207.6 292.2 206.6 291.1 206.1 290.8"/><path d="M228.4 276.4 C229.6 276.3 233.1 276.1 235.5 276.0 C237.9 275.9 241.5 275.8 242.7 275.8"/><path d="M235.6 276.4 C235.4 277.8 235.0 282.1 234.7 285.0 C234.4 287.9 234.0 292.1 233.9 293.5"/><path d="M227.7 295.2 C228.9 295.0 232.2 294.5 234.7 294.2 C237.1 293.9 241.1 293.3 242.4 293.1"/><ellipse cx="258.40" cy="284.40" rx="10.8" ry="8.7" transform="rotate(-35 258.40 284.40)"/><path d="M273.5 295.6 C273.8 294.1 274.7 289.8 275.5 286.7 C276.3 283.6 277.8 278.9 278.2 277.3"/><path d="M278.2 277.3 C278.6 278.8 280.0 283.2 280.8 286.0 C281.6 288.8 282.8 292.8 283.2 294.1"/><path d="M283.2 294.1 C283.6 293.1 285.0 290.0 285.8 288.0 C286.6 286.0 287.2 284.6 287.9 282.0 C288.6 279.4 289.8 274.2 290.2 272.7"/><path d="M559.1 294.4 C559.9 293.6 562.4 291.4 564.1 289.4 C565.9 287.4 568.0 284.6 569.6 282.4 C571.2 280.2 572.5 277.9 573.5 276.1 C574.5 274.3 575.4 272.5 575.8 271.8"/><path d="M575.8 271.8 C575.9 273.4 576.5 277.8 576.6 281.6 C576.7 285.4 576.3 292.6 576.3 294.8"/><path d="M564.9 288.6 C566.0 288.5 569.3 288.2 571.5 288.0 C573.7 287.8 577.0 287.5 578.1 287.4"/><path d="M597.4 281.0 C597.3 280.4 597.2 278.4 597.0 277.2 C596.8 276.0 597.1 274.6 596.3 274.0 C595.5 273.4 593.8 273.5 592.3 273.9 C590.8 274.3 588.9 275.1 587.6 276.2 C586.3 277.3 585.1 278.8 584.5 280.3 C583.9 281.8 583.8 283.5 584.1 285.0 C584.4 286.5 585.2 288.0 586.2 289.1 C587.2 290.2 588.8 291.1 590.3 291.7 C591.8 292.3 593.5 292.4 595.0 292.5 C596.5 292.6 598.8 292.1 599.5 292.0"/><path d="M604.6 279.7 C605.5 279.3 607.8 277.9 610.0 277.2 C612.2 276.5 614.5 275.7 618.1 275.4 C621.7 275.1 629.4 275.2 631.6 275.2"/><path d="M618.1 276.0 C618.0 277.5 617.8 281.9 617.8 285.0 C617.8 288.1 618.0 293.1 618.1 294.7"/><path d="M635.7 275.4 C636.9 275.3 640.4 275.1 642.8 275.0 C645.2 274.9 648.8 274.8 650.0 274.8"/><path d="M642.9 275.4 C642.8 276.8 642.3 281.1 642.0 284.0 C641.7 286.9 641.3 291.1 641.2 292.5"/><path d="M635.0 294.2 C636.2 294.0 639.5 293.5 642.0 293.2 C644.5 292.9 648.4 292.3 649.7 292.1"/><ellipse cx="665.40" cy="283.10" rx="10.8" ry="8.7" transform="rotate(-35 665.40 283.10)"/><path d="M680.9 294.4 C681.2 292.9 682.1 288.6 682.9 285.5 C683.7 282.4 685.1 277.7 685.6 276.1"/><path d="M685.6 276.1 C686.0 277.6 687.4 282.0 688.2 284.8 C689.0 287.6 690.2 291.5 690.6 292.9"/><path d="M690.6 292.9 C691.0 291.9 692.4 288.8 693.2 286.8 C694.0 284.8 694.6 283.4 695.3 280.8 C696.0 278.2 697.2 273.1 697.6 271.5"/></g>
</svg>
</body></html>
